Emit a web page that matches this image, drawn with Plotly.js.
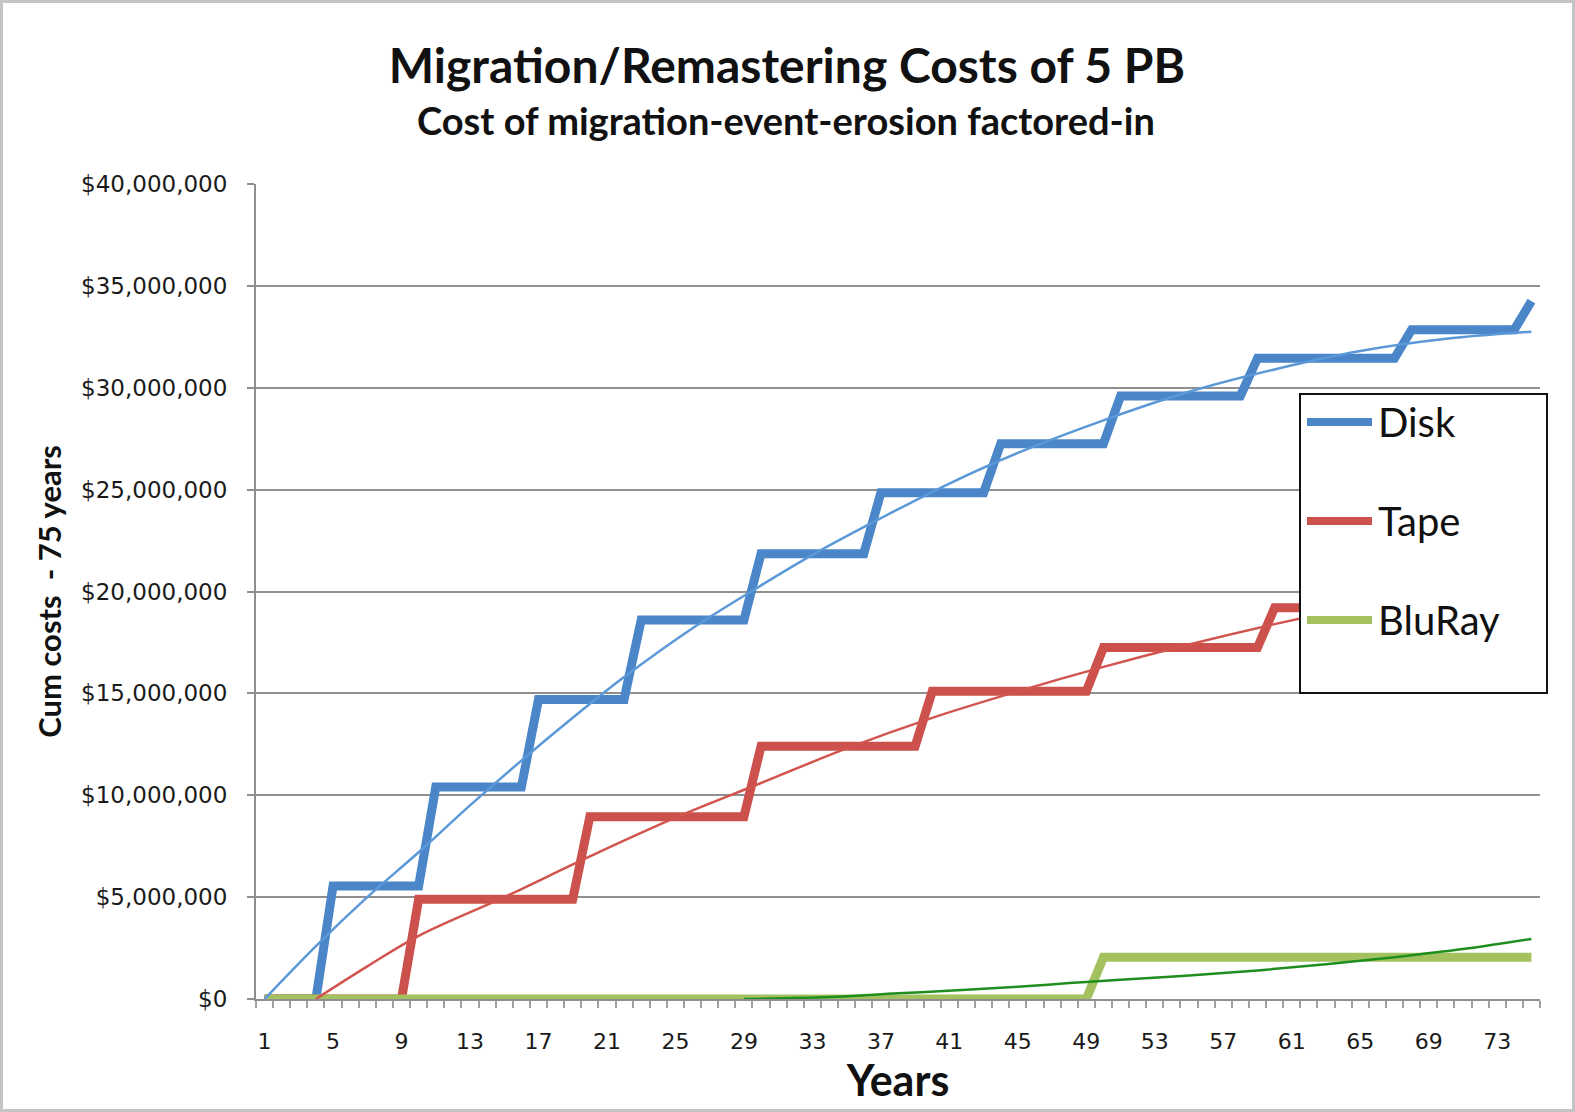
<!DOCTYPE html>
<html>
<head>
<meta charset="utf-8">
<script src="https://cdn.plot.ly/plotly-3.0.1.min.js"></script>
<style>
  html, body { margin: 0; padding: 0; background: #ffffff; }
  #wrap { position: relative; width: 1575px; height: 1112px; }
  #chart { width: 1575px; height: 1112px; }
  #frame { position: absolute; left: 0; top: 0; width: 1575px; height: 1112px; box-sizing: border-box;
           border: 3px solid #c4c4c4; pointer-events: none; }
</style>
</head>
<body>
<div id="wrap"><div id="chart"></div><div id="frame"></div></div>
<script>
// ---- Data (costs in millions of US$) ----
const years = [1,2,3,4,5,6,7,8,9,10,11,12,13,14,15,16,17,18,19,20,21,22,23,24,25,26,27,28,29,30,31,32,33,34,35,36,37,38,39,40,41,42,43,44,45,46,47,48,49,50,51,52,53,54,55,56,57,58,59,60,61,62,63,64,65,66,67,68,69,70,71,72,73,74,75];
const xTickLabels = ["1","5","9","13","17","21","25","29","33","37","41","45","49","53","57","61","65","69","73"];
const xTickVals = [1,5,9,13,17,21,25,29,33,37,41,45,49,53,57,61,65,69,73];

const diskCost = [0,0,0,0,
  5.55,5.55,5.55,5.55,5.55,5.55,
  10.4,10.4,10.4,10.4,10.4,10.4,
  14.7,14.7,14.7,14.7,14.7,14.7,
  18.6,18.6,18.6,18.6,18.6,18.6,18.6,
  21.85,21.85,21.85,21.85,21.85,21.85,21.85,
  24.85,24.85,24.85,24.85,24.85,24.85,24.85,
  27.25,27.25,27.25,27.25,27.25,27.25,27.25,
  29.6,29.6,29.6,29.6,29.6,29.6,29.6,29.6,
  31.45,31.45,31.45,31.45,31.45,31.45,31.45,31.45,31.45,
  32.85,32.85,32.85,32.85,32.85,32.85,32.85,
  34.25];
const tapeCost = [0,0,0,0,0,0,0,0,0,
  4.9,4.9,4.9,4.9,4.9,4.9,4.9,4.9,4.9,4.9,
  8.95,8.95,8.95,8.95,8.95,8.95,8.95,8.95,8.95,8.95,
  12.4,12.4,12.4,12.4,12.4,12.4,12.4,12.4,12.4,12.4,
  15.1,15.1,15.1,15.1,15.1,15.1,15.1,15.1,15.1,15.1,
  17.25,17.25,17.25,17.25,17.25,17.25,17.25,17.25,17.25,17.25,
  19.2,19.2,19.2,19.2,19.2,19.2,19.2,19.2,19.2,19.2,
  21.0,21.0,21.0,21.0,21.0,21.0];
const bluRayCost = [0,0,0,0,0,0,0,0,0,0,0,0,0,0,0,0,0,0,0,0,0,0,0,0,0,0,0,0,0,0,0,0,0,0,0,0,0,0,0,0,0,0,0,0,0,0,0,0,0,
  2.05,2.05,2.05,2.05,2.05,2.05,2.05,2.05,2.05,2.05,2.05,2.05,2.05,2.05,2.05,2.05,2.05,2.05,2.05,2.05,2.05,2.05,2.05,2.05,2.05,2.05];

// Trendlines at sample years
const diskTrendYears = [1,4,7,10,13,16,19,22,26,30,33,37,41,45,50,55,60,65,70,75];
const diskTrend = [0,2.6,5.0,7.2,9.5,11.7,13.8,15.8,18.2,20.3,21.8,23.6,25.3,26.8,28.4,29.8,30.9,31.8,32.4,32.75];
const tapeTrendYears = [4,7,10,15,20,25,30,35,40,45,50,55,60,65,70,75];
const tapeTrend = [0,1.6,3.1,5.0,7.0,8.9,10.6,12.3,13.8,15.1,16.3,17.4,18.4,19.3,20.1,20.8];
const bluRayTrendYears = [29,34,38,42,45,48,51,55,59,63,67,71,75];
const bluRayTrend = [0,0.1,0.28,0.45,0.6,0.78,0.95,1.15,1.4,1.7,2.05,2.45,2.95];

const seriesNames = ["Disk","Tape","BluRay"];
const seriesColors = ["#4A86C8","#CC514C","#A3C25F"];
const trendColors = ["#5B98D8","#D2544E","#1F8E1F"];

const M = v => v * 1e6;

// ---- Traces ----
const mainY = [diskCost, tapeCost, bluRayCost];
const traces = [];
for (let i = 0; i < 3; i++) {
  traces.push({
    type: 'scatter', mode: 'lines', name: seriesNames[i],
    x: years, y: mainY[i].map(M),
    line: { color: seriesColors[i], width: 9 },
    showlegend: false, hoverinfo: 'x+y+name'
  });
}
const trendX = [diskTrendYears, tapeTrendYears, bluRayTrendYears];
const trendY = [diskTrend, tapeTrend, bluRayTrend];
for (let i = 0; i < 3; i++) {
  traces.push({
    type: 'scatter', mode: 'lines', name: seriesNames[i] + ' trend',
    x: trendX[i], y: trendY[i].map(M),
    line: { color: trendColors[i], width: 2.5, shape: 'spline', smoothing: 1 },
    showlegend: false, hoverinfo: 'skip'
  });
}

// ---- Legend (drawn as a boxed key) ----
const L = 256, R = 1540, T = 184, B = 999;
const px = v => (v - L) / (R - L);
const py = v => (B - v) / (B - T);
const shapes = [{
  type: 'rect', xref: 'paper', yref: 'paper', layer: 'above',
  x0: px(1300), x1: px(1547), y0: py(693), y1: py(394),
  line: { color: '#111111', width: 2 }, fillcolor: '#ffffff'
}];
const annotations = [];
const legendRows = [422, 521, 620];
for (let i = 0; i < 3; i++) {
  shapes.push({
    type: 'line', xref: 'paper', yref: 'paper', layer: 'above',
    x0: px(1307), x1: px(1372), y0: py(legendRows[i]), y1: py(legendRows[i]),
    line: { color: seriesColors[i], width: 8 }
  });
  annotations.push({
    xref: 'paper', yref: 'paper', x: px(1376), y: py(legendRows[i]),
    xanchor: 'left', yanchor: 'middle', showarrow: false,
    text: seriesNames[i], font: { family: 'Lato, Carlito, sans-serif', size: 40, color: '#111111' }
  });
}
annotations.push({
  xref: 'paper', yref: 'paper', x: px(786), y: py(120),
  xanchor: 'center', yanchor: 'middle', showarrow: false,
  text: '<b>Cost of migration-event-erosion factored-in</b>',
  font: { family: 'Lato, sans-serif', size: 38, color: '#111111' }
});

const layout = {
  width: 1575, height: 1112,
  margin: { l: L, r: 1575 - R, t: T, b: 1112 - B, pad: 0 },
  paper_bgcolor: '#ffffff', plot_bgcolor: '#ffffff',
  title: {
    text: '<b>Migration/Remastering Costs of 5 PB</b>',
    font: { family: 'Lato, sans-serif', size: 48, color: '#111111' },
    x: 787 / 1575, xanchor: 'center', xref: 'container',
    y: 1 - 66 / 1112, yanchor: 'middle', yref: 'container'
  },
  xaxis: {
    range: [0.5, 75.5], tickmode: 'array', tickvals: xTickVals, ticktext: xTickLabels,
    ticks: 'outside', ticklen: 22, tickcolor: 'rgba(0,0,0,0)',
    showgrid: false, zeroline: false, showline: true, linecolor: '#8f8f8f', linewidth: 2,
    tickfont: { family: 'DejaVu Sans, Verdana, sans-serif', size: 22, color: '#1a1a1a' },
    minor: { tickmode: 'linear', tick0: 0.5, dtick: 1, ticks: 'outside', ticklen: 7, tickwidth: 2, tickcolor: '#a0a0a0', showgrid: false },
    title: { text: '<b>Years</b>', standoff: 8, font: { family: 'Lato, sans-serif', size: 43, color: '#111111' } },
    fixedrange: true
  },
  yaxis: {
    range: [0, 40e6], tickmode: 'linear', tick0: 0, dtick: 5e6,
    tickprefix: '$', tickformat: ',.0f',
    ticks: 'outside', ticklen: 7, tickwidth: 2, tickcolor: '#8f8f8f', ticklabelstandoff: 15,
    showgrid: true, gridcolor: '#8f8f8f', gridwidth: 2,
    zeroline: false, showline: true, linecolor: '#8f8f8f', linewidth: 2,
    tickfont: { family: 'DejaVu Sans, Verdana, sans-serif', size: 23, color: '#1a1a1a' },
    title: { text: '<b>Cum costs\u00a0 - 75 years</b>', standoff: 10, font: { family: 'Lato, sans-serif', size: 31, color: '#111111' } },
    fixedrange: true
  },
  shapes: shapes,
  annotations: annotations,
  showlegend: false
};

Plotly.newPlot('chart', traces, layout, { staticPlot: true, displayModeBar: false });
</script>
</body>
</html>
